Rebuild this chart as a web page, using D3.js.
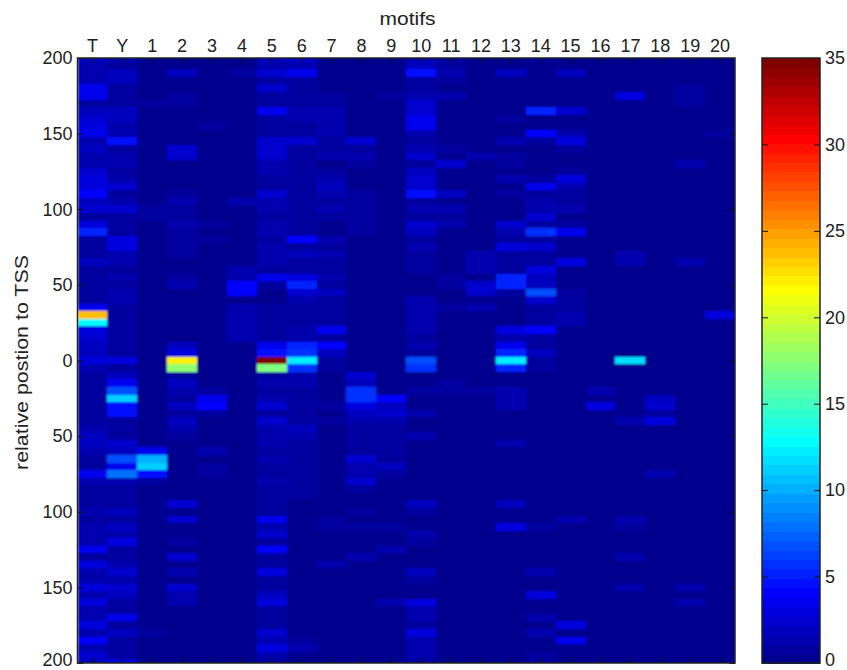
<!DOCTYPE html>
<html>
<head>
<meta charset="utf-8">
<script src="https://cdn.jsdelivr.net/npm/d3@7"></script>
<style>
  html, body { margin: 0; background: #fff; }
  text { font-family: "Liberation Sans", sans-serif; fill: #222; }
</style>
</head>
<body>
<svg width="847" height="670"></svg>
<script>
const motifLabels = ['T','Y','1','2','3','4','5','6','7','8','9','10','11','12','13','14','15','16','17','18','19','20']
const tssTicks = [200, 150, 100, 50, 0, -50, -100, -150, -200]
const colorTicks = [0, 5, 10, 15, 20, 25, 30, 35]
const rowPositions = d3.range(200, -205, -5)
const background = 0.3

// [row number from the top, value], cells not listed stay at background
const colT = [[0,2],[1,1.5],[2,1.5],[3,1.5],[4,3.5],[5,3.5],[6,1],[7,2],[8,2.5],[9,3],[10,3.5],[11,1.5],[12,2],[13,1.5],[14,1.5],[15,2.5],[16,3],[17,3],[18,4],[19,2],[20,2.5],[21,1],[22,3],[23,5],[24,1],[25,1],[26,1],[27,2],[28,1],[29,1],[30,1],[31,1],[32,1],[33,3.5],[34,24],[35,13],[36,3],[37,2.5],[38,2],[39,2],[40,3],[41,1.5],[42,1],[43,1],[44,1],[45,1],[46,1],[47,1],[48,1],[49,1.5],[50,2],[51,2],[52,1.5],[53,1],[54,1],[55,3.5],[56,1.5],[57,1],[58,1],[59,1],[60,1.5],[61,1],[62,1.5],[63,1.5],[64,1.5],[65,3.5],[66,1],[67,3],[68,1.5],[69,1.5],[70,3],[71,1.5],[72,3],[73,1.5],[74,1.5],[75,3],[76,1.5],[77,4],[78,1.5],[79,2.5],[80,2]]
const colY = [[0,1.5],[1,1],[2,2],[3,2],[4,1],[5,1],[6,1],[7,2],[8,2],[9,1.5],[10,1.5],[11,4.5],[12,1],[13,1.5],[14,1.5],[15,1],[16,1.5],[17,2.5],[18,1],[19,1.5],[20,2.5],[21,1],[22,1],[23,1],[24,3],[25,3],[26,1.5],[27,1.5],[28,1],[29,1.5],[30,1],[31,1.5],[32,1.5],[33,1],[34,1],[35,1],[36,1],[37,1],[38,1],[39,1],[40,3],[41,1],[42,2],[43,3.5],[44,7],[45,11],[46,4.5],[47,4.5],[48,1],[49,1],[50,1],[51,2.5],[52,2],[53,7],[54,3.5],[55,8],[56,1.5],[57,1],[58,1],[59,1],[60,2],[61,1],[62,2],[63,1.5],[64,3],[65,1],[66,1],[67,1.5],[68,2.5],[69,1.5],[70,2.5],[71,2],[72,1],[73,1],[74,3.5],[75,1],[76,2],[77,1],[78,1],[79,1],[80,3]]
const col1 = [[6,1],[20,0.7],[21,0.7],[52,3.5],[53,10],[54,11],[55,4.5],[56,1],[76,1]]
const col2 = [[2,2],[5,1],[6,1],[11,0.5],[12,2.5],[13,2.5],[18,0.7],[19,1.5],[20,1],[21,1],[22,1.5],[23,1],[24,1],[25,1],[26,1],[29,0.8],[30,1.3],[38,2],[39,3],[40,22],[41,17.5],[42,1],[43,2],[44,1.5],[45,1],[46,2],[47,1],[48,2],[49,1.5],[50,1],[59,2.5],[61,2.5],[64,1],[66,2.5],[68,1.5],[70,2.5],[71,1.5],[72,1.2]]
const col3 = [[9,1],[22,0.8],[24,1],[44,0.8],[45,3.5],[46,4],[47,1],[52,1.2],[54,1],[55,1]]
const col4 = [[2,0.7],[19,1.2],[28,1.5],[29,1.5],[30,4],[31,4],[33,1.5],[34,1.2],[35,1.5],[36,1.5],[37,1.5]]
const col5 = [[0,2],[1,1.5],[2,2.5],[3,1],[4,2.5],[5,1],[6,1],[7,3.5],[8,1],[9,1],[10,1],[11,2.5],[12,2.5],[13,2.5],[14,1.5],[15,1.2],[16,1],[17,1],[18,2.5],[19,1.5],[20,1.5],[21,1],[22,1.5],[23,1.5],[24,1],[25,1.2],[26,1.3],[27,1.5],[28,1],[29,3.5],[30,0.7],[31,0.5],[32,0.5],[33,0.7],[34,0.8],[35,1],[36,1],[37,1],[38,3.5],[39,4.5],[40,35],[41,17],[42,1],[43,1.3],[44,1],[45,1.3],[46,2.5],[47,1],[48,2.5],[49,1.5],[50,1.3],[51,1.2],[52,1],[53,1.5],[54,1],[55,1],[56,1.2],[57,1],[58,1],[59,1],[60,1],[61,3.5],[62,1.2],[63,2.5],[64,1],[65,4],[66,1],[67,1],[68,3],[69,0.8],[70,0.8],[71,2],[72,3],[73,1],[74,1],[75,1],[76,2.5],[77,1.2],[78,3],[79,1.3],[80,1]]
const col6 = [[0,2.5],[1,1.3],[2,3.5],[3,1],[4,1],[5,1],[6,1],[7,1.3],[8,1.3],[9,1],[10,1],[11,2.5],[12,1],[13,0.7],[14,1],[15,1],[16,1],[17,1],[18,1],[19,1],[20,1],[21,1],[22,1],[23,1],[24,4],[25,1],[26,2],[27,0.8],[28,1],[29,3],[30,5],[31,2.5],[32,1.5],[33,1],[34,1],[35,1],[36,1.3],[37,1.3],[38,5],[39,6],[40,12.5],[41,6],[42,1.5],[43,1.2],[44,1],[45,1],[46,1],[47,1],[48,1],[49,2],[50,1.2],[51,1],[52,1],[53,1],[54,1],[55,1],[56,1],[57,1],[58,0.8],[77,0.8],[78,1.2]]
const col7 = [[5,0.8],[6,0.8],[7,1.2],[8,1.2],[9,1.2],[10,1.2],[11,1],[12,1],[13,1.2],[15,1],[16,1.5],[17,2],[18,1.2],[19,1],[20,1.2],[21,1],[24,1.5],[25,1],[26,1.2],[27,1],[28,1],[29,1.2],[30,1],[31,1.8],[32,1],[33,0.8],[34,0.8],[35,0.8],[36,3.5],[37,0.8],[38,4],[39,2],[40,1],[41,0.8],[46,0.8],[48,1],[61,1],[62,1],[67,1.5]]
const col8 = [[11,2.5],[12,1],[13,1.3],[14,0.7],[18,0.8],[19,0.8],[20,1],[21,0.8],[22,1],[23,0.8],[42,2.5],[43,2],[44,5.5],[45,6],[46,3],[47,2],[48,1.3],[49,0.8],[50,1],[51,0.8],[52,0.8],[53,2.5],[54,1.5],[55,1.5],[56,2.5],[57,0.8],[60,0.8],[62,0.8],[66,1.2]]
const col9 = [[5,1],[45,4],[46,2],[47,2.5],[48,1.5],[49,0.8],[50,0.8],[51,1],[52,0.8],[53,0.8],[54,2],[55,0.8],[62,0.8],[65,1.2],[72,1.2]]
const col10 = [[0,1.5],[1,2],[2,4.5],[3,1],[4,1],[5,1.3],[6,2.5],[7,2.5],[8,3.5],[9,3.5],[10,1.2],[11,0.8],[12,1.5],[13,2.5],[14,1],[15,1.7],[16,2.5],[17,2.5],[18,4.5],[19,1],[20,1.3],[21,1],[22,2.5],[23,1.7],[24,1],[25,1.5],[26,0.8],[27,0.8],[28,0.8],[32,1.3],[33,1.2],[34,1.2],[35,1.3],[36,1.3],[37,1],[38,1.5],[39,1],[40,7],[41,6],[44,1],[47,1.3],[50,1.2],[59,1.7],[60,0.8],[63,1.5],[64,0.8],[68,1.7],[69,0.8],[72,3],[73,1.5],[74,1.5],[75,0.8],[76,3],[77,1.2],[78,1.2],[79,1.3],[80,1]]
const col11 = [[0,1],[1,1],[2,1.2],[3,0.8],[5,1.3],[12,0.8],[14,2.3],[18,2],[20,1.5],[21,0.8],[22,1.3],[29,1],[30,1],[33,0.8],[43,0.7],[44,0.7]]
const col12 = [[13,1.2],[26,1.3],[27,1.3],[28,1.2],[30,2.5],[31,2.5],[33,1.2],[44,1]]
const col13 = [[2,2],[6,0.5],[8,1],[11,1.2],[13,0.8],[14,1],[16,1.2],[18,0.7],[22,2.5],[23,1.5],[24,0.7],[25,3],[26,0.7],[27,0.7],[28,1],[29,5],[30,5],[31,0.7],[36,3],[37,1.3],[38,3.5],[39,5],[40,12.5],[41,5],[44,1.2],[45,1.5],[46,1.5],[51,1.5],[59,1.7],[62,3]]
const col14 = [[0,1],[7,5],[10,4],[11,0.7],[16,0.7],[17,3.5],[18,1],[19,1.3],[20,1.3],[21,2.3],[22,0.8],[23,6],[24,1],[25,2.5],[26,0.7],[27,1],[28,3],[29,2],[30,2],[31,7],[32,2.5],[33,1],[34,1],[35,1],[36,4],[37,1],[38,1],[39,2],[40,1],[41,1],[62,1],[68,1.5],[71,3],[74,1.5],[76,1.5],[79,1],[80,1]]
const col15 = [[2,2],[7,2.5],[10,1.5],[11,3],[12,0.8],[15,1],[16,3],[17,1.5],[18,1],[19,1],[20,1.5],[22,1],[23,3.5],[27,3],[31,0.8],[32,1],[33,1],[34,1.2],[35,1.3],[61,1.5],[75,3],[77,3.5]]
const col16 = [[44,1.5],[46,3]]
const col17 = [[5,3],[26,1.2],[27,1.2],[40,11.5],[48,1.5],[61,1.4],[62,1],[66,1.4],[70,1.2]]
const col18 = [[45,2],[46,2.5],[47,0.9],[48,3],[55,1.2]]
const col19 = [[4,1],[5,0.7],[6,0.9],[14,1.1],[27,1.1],[70,1.3],[72,1.2]]
const col20 = [[10,0.6],[34,3]]
const motifColumns = [colT, colY, col1, col2, col3, col4, col5, col6, col7, col8, col9, col10, col11, col12, col13, col14, col15, col16, col17, col18, col19, col20]

const plot = { left: 77.5, right: 735, top: 58, bottom: 663 }
const bar = { left: 762, right: 820 }

// matlab jet colormap, 64 steps
const jet = d3.range(64).map(i => {
    const t = (i + 1) / 64
    const c = v => Math.round(255 * Math.max(0, Math.min(1, v)))
    return d3.rgb(c(1.5 - Math.abs(4 * t - 3)), c(1.5 - Math.abs(4 * t - 2)), c(1.5 - Math.abs(4 * t - 1))).formatHex()
})
const color = d3.scaleQuantize().domain([0, 35]).range(jet)

const x = d3.scaleBand().domain(motifLabels).range([plot.left, plot.right])
const y = d3.scaleLinear().domain([200, -200]).range([plot.top, plot.bottom])
const rowHeight = y(-5) - y(0)
const cy = d3.scaleLinear().domain([0, 35]).range([plot.bottom, plot.top])
const cyBand = d3.scaleBand().domain(d3.range(64)).range([plot.bottom, plot.top])

const svg = d3.select('svg')
const defs = svg.append('defs')
defs.append('clipPath').attr('id', 'plot-clip').append('rect')
    .attr('x', plot.left).attr('y', plot.top)
    .attr('width', plot.right - plot.left).attr('height', plot.bottom - plot.top)
defs.append('filter').attr('id', 'soft')
    .attr('x', '-5%').attr('y', '-5%').attr('width', '110%').attr('height', '110%')
    .append('feGaussianBlur').attr('stdDeviation', 0.9)

const cells = motifLabels.flatMap((m, c) => {
    const listed = new Map(motifColumns[c])
    return rowPositions.map((p, r) => ({ m, p, v: listed.has(r) ? listed.get(r) : background }))
})

svg.append('g').attr('clip-path', 'url(#plot-clip)')
    .append('g').attr('filter', 'url(#soft)')
    .selectAll('rect')
    .data(cells)
    .enter()
    .append('rect')
    .attr('x', d => x(d.m))
    .attr('y', d => y(d.p) - rowHeight / 2)
    .attr('width', x.bandwidth() + 1)
    .attr('height', rowHeight + 1)
    .attr('shape-rendering', 'crispEdges')
    .attr('fill', d => color(d.v))

const styleAxis = g => {
    g.selectAll('text').style('font-size', '18px')
    g.selectAll('line').attr('stroke', '#111')
    g.select('.domain').remove()
}

// plot axes, ticks point inward on all four sides
svg.append('g').attr('transform', `translate(0,${plot.top})`)
    .call(d3.axisTop(x).tickSizeInner(-5).tickPadding(6)).call(styleAxis)
svg.append('g').attr('transform', `translate(0,${plot.bottom})`)
    .call(d3.axisBottom(x).tickSizeInner(-5).tickFormat('')).call(styleAxis)
const yLeft = svg.append('g').attr('transform', `translate(${plot.left},0)`)
    .call(d3.axisLeft(y).tickValues(tssTicks).tickSizeInner(-6).tickPadding(5).tickFormat(Math.abs)).call(styleAxis)
svg.append('g').attr('transform', `translate(${plot.right},0)`)
    .call(d3.axisRight(y).tickValues(tssTicks).tickSizeInner(-6).tickFormat('')).call(styleAxis)
svg.append('rect')
    .attr('x', plot.left).attr('y', plot.top)
    .attr('width', plot.right - plot.left).attr('height', plot.bottom - plot.top)
    .attr('fill', 'none').attr('stroke', '#222').attr('stroke-width', 1.5)

svg.append('text')
    .attr('x', 407.5).attr('y', 25)
    .attr('text-anchor', 'middle').style('font-size', '18px')
    .attr('textLength', 56).attr('lengthAdjust', 'spacingAndGlyphs')
    .text('motifs')
svg.append('text')
    .attr('transform', 'translate(28,362.5) rotate(-90)')
    .attr('text-anchor', 'middle').style('font-size', '18px')
    .attr('textLength', 215).attr('lengthAdjust', 'spacingAndGlyphs')
    .text('relative postion to TSS')

// colorbar
svg.append('g').selectAll('rect')
    .data(jet)
    .enter()
    .append('rect')
    .attr('x', bar.left)
    .attr('y', (d, i) => cyBand(i))
    .attr('width', bar.right - bar.left)
    .attr('height', cyBand.bandwidth() + 1)
    .attr('shape-rendering', 'crispEdges')
    .attr('fill', d => d)
const barRight = svg.append('g').attr('transform', `translate(${bar.right},0)`)
    .call(d3.axisRight(cy).tickValues(colorTicks).tickSizeInner(-6).tickPadding(5)).call(styleAxis)
svg.append('g').attr('transform', `translate(${bar.left},0)`)
    .call(d3.axisLeft(cy).tickValues(colorTicks).tickSizeInner(-6).tickFormat('')).call(styleAxis)
svg.append('rect')
    .attr('x', bar.left).attr('y', plot.top)
    .attr('width', bar.right - bar.left).attr('height', plot.bottom - plot.top)
    .attr('fill', 'none').attr('stroke', '#222').attr('stroke-width', 1.5)

// bottom labels sit against the page edge, lift them a little
yLeft.selectAll('.tick').filter(d => d === -200).select('text').attr('dy', '0.15em')
barRight.selectAll('.tick').filter(d => d === 0).select('text').attr('dy', '0.15em')
</script>
</body>
</html>
